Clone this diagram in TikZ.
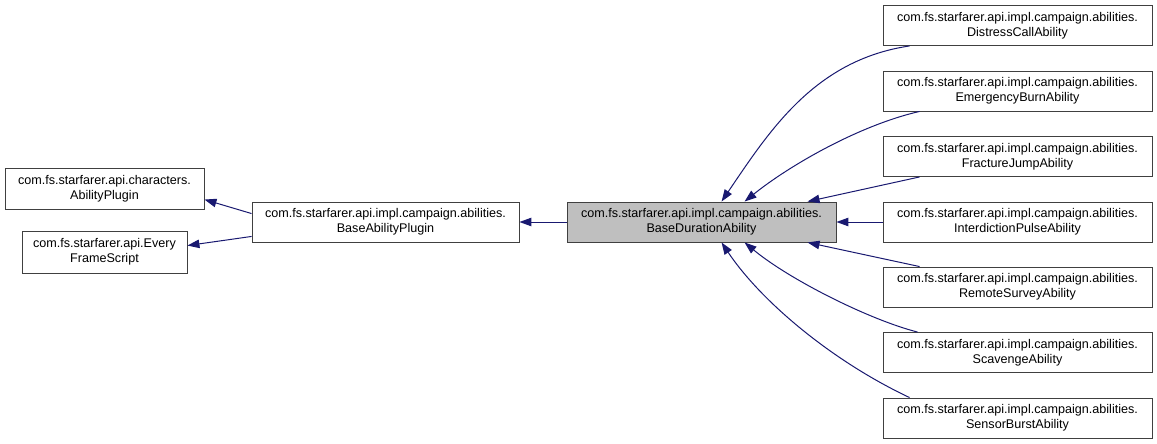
\documentclass[tikz,border=0pt]{standalone}
\usepackage{fontspec}
\setmainfont{Liberation Sans}
\usetikzlibrary{arrows.meta}
\definecolor{edgeblue}{HTML}{191970}
\definecolor{boxborder}{HTML}{404040}
\definecolor{boxfill}{HTML}{BFBFBF}
\tikzset{
  cls/.style={draw=boxborder, line width=0.9pt, fill=white, inner sep=0pt, align=center,
    font=\fontsize{12.6pt}{15pt}\selectfont, minimum height=40pt},
  wide/.style={minimum width=269pt},
  inh/.style={draw=edgeblue, line width=1pt, -{Triangle[length=12pt,width=8.5pt]}},
}
\begin{document}
\begin{tikzpicture}[x=1pt,y=-1pt]
\useasboundingbox (0,0) rectangle (1157,444);
\node[cls, minimum width=199pt, minimum height=41pt] (ap) at (104.5,188.5) {com.fs.starfarer.api.characters.\\AbilityPlugin};
\node[cls, minimum width=165pt, minimum height=42pt] (efs) at (104.5,252) {com.fs.starfarer.api.Every\\FrameScript};
\node[cls, minimum width=267pt] (bap) at (385.5,222) {com.fs.starfarer.api.impl.campaign.abilities.\\BaseAbilityPlugin};
\node[cls, wide, fill=boxfill] (bda) at (701.5,222) {com.fs.starfarer.api.impl.campaign.abilities.\\BaseDurationAbility};
\node[cls, wide] (d1) at (1017.5,25.5) {com.fs.starfarer.api.impl.campaign.abilities.\\DistressCallAbility};
\node[cls, wide] (d2) at (1017.5,91) {com.fs.starfarer.api.impl.campaign.abilities.\\EmergencyBurnAbility};
\node[cls, wide] (d3) at (1017.5,156.5) {com.fs.starfarer.api.impl.campaign.abilities.\\FractureJumpAbility};
\node[cls, wide] (d4) at (1017.5,222) {com.fs.starfarer.api.impl.campaign.abilities.\\InterdictionPulseAbility};
\node[cls, wide] (d5) at (1017.5,287) {com.fs.starfarer.api.impl.campaign.abilities.\\RemoteSurveyAbility};
\node[cls, wide] (d6) at (1017.5,352.5) {com.fs.starfarer.api.impl.campaign.abilities.\\ScavengeAbility};
\node[cls, wide] (d7) at (1017.5,418) {com.fs.starfarer.api.impl.campaign.abilities.\\SensorBurstAbility};
% left edges
\draw[inh] ([yshift=-12pt]bap.north west) -- ([yshift=-32pt]ap.north east);
\draw[inh] ([yshift=6pt]bap.south west) -- ([yshift=-15pt]efs.north east);
\draw[inh] (bda.west) -- (bap.east);
% right edges
\draw[inh] ([xshift=27pt]d1.south west) .. controls (815,60) and (770,130) .. ([xshift=155pt]bda.north west);
\draw[inh] ([xshift=37pt]d2.south west) .. controls (860,125) and (790,165) .. ([xshift=178pt]bda.north west);
\draw[inh] ([xshift=37pt]d3.south west) -- ([xshift=241pt]bda.north west);
\draw[inh] (d4.west) -- (bda.east);
\draw[inh] ([xshift=37pt]d5.north west) -- ([xshift=241pt]bda.south west);
\draw[inh] ([xshift=35pt]d6.north west) .. controls (870,320) and (790,280) .. ([xshift=178pt]bda.south west);
\draw[inh] ([xshift=27pt]d7.north west) .. controls (830,360) and (760,300) .. ([xshift=155pt]bda.south west);
\end{tikzpicture}
\end{document}
